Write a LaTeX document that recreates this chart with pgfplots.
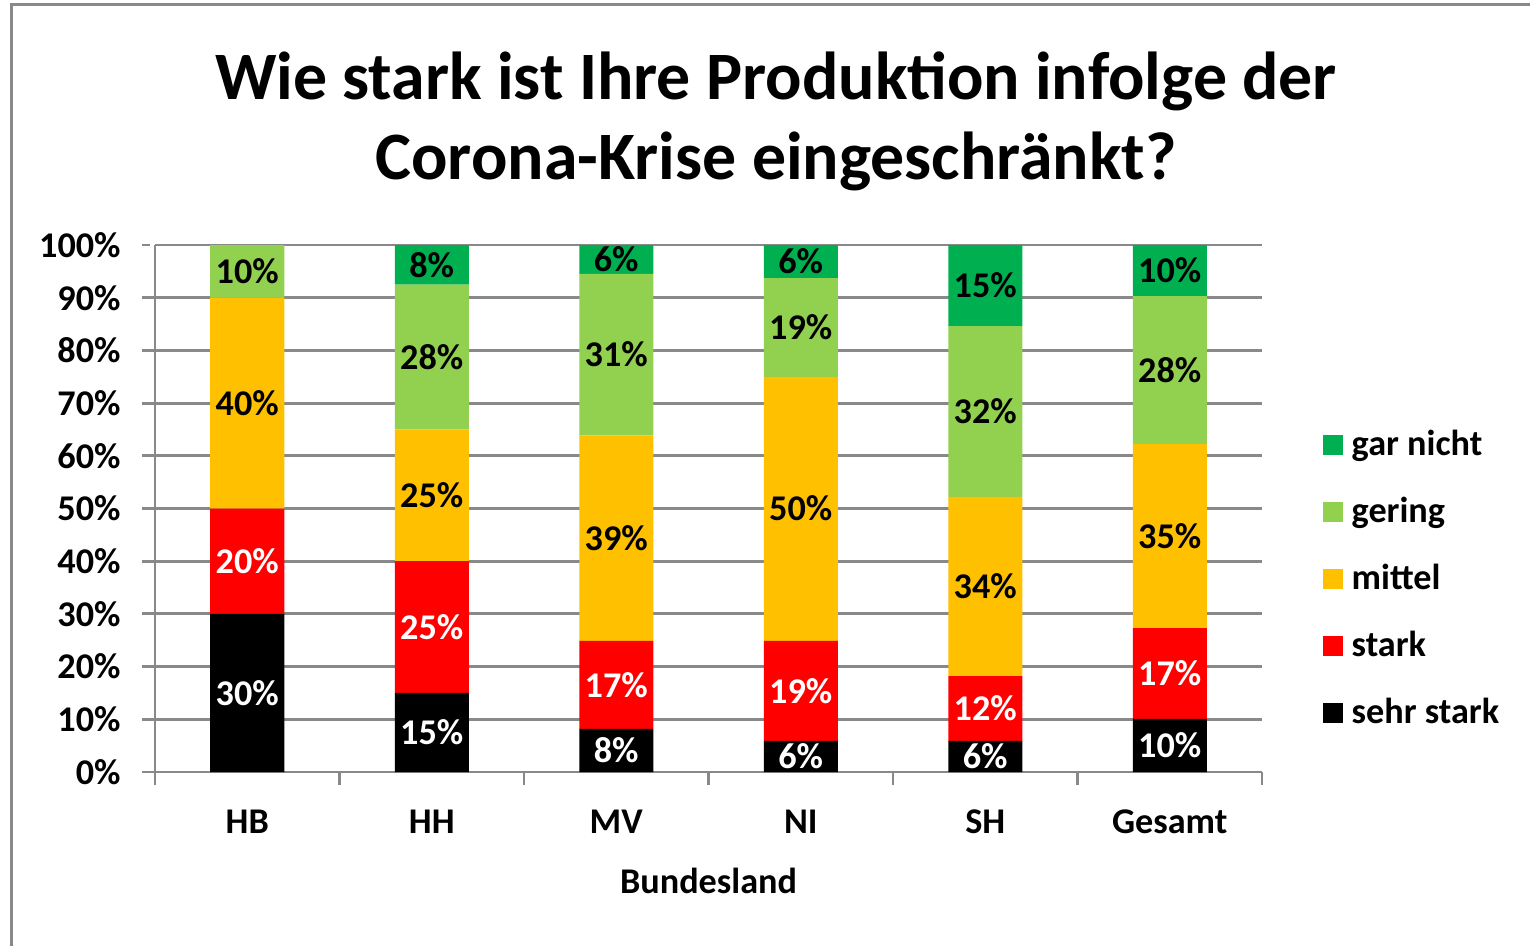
\documentclass[border=0pt]{standalone}
\usepackage{fontspec}
\setmainfont{Carlito}
\usepackage{pgfplots}
\pgfplotsset{compat=1.18}

\definecolor{garnicht}{RGB}{0,176,80}
\definecolor{gering}{RGB}{146,208,80}
\definecolor{mittel}{RGB}{255,192,0}
\definecolor{stark}{RGB}{255,0,0}
\definecolor{sehrstark}{RGB}{0,0,0}
\definecolor{gridgray}{RGB}{137,137,137}

\newcommand\lf{\fontsize{10.3}{12.4}\selectfont\bfseries}

\pgfplotsset{
  chartbox/.style={
    scale only axis, width=11.07cm, height=5.27cm,
    at={(1.55cm,1.74cm)}, anchor=south west,
    xmin=-0.5, xmax=5.5, ymin=0, ymax=100,
  },
  lab/.style={draw=none, mark=none, nodes near coords, point meta=explicit symbolic,
    nodes near coords style={anchor=center, font=\lf, text=#1}},
}

\begin{document}
\begin{tikzpicture}
\useasboundingbox (0,0) rectangle (15.3,9.46);
\draw[gridgray, line width=0.03cm] (0.12,0) -- (0.12,9.41) -- (15.3,9.41);
\node[font=\fontsize{19.3}{23}\selectfont\bfseries, anchor=base] at (7.76,8.46) {Wie stark ist Ihre Produktion infolge der};
\node[font=\fontsize{19.3}{23}\selectfont\bfseries, anchor=base] at (7.76,7.66) {Corona-Krise eingeschränkt?};

\begin{axis}[chartbox,
  ybar stacked, bar width=0.74cm,
  axis lines=left, axis line style={-, gridgray, line width=0.85pt},
  tick align=outside,
  tick style={gridgray, line width=0.85pt},
  major tick length=0.13cm,
  ytick={0,10,...,100},
  ytick style={shorten >=0.05cm},
  yticklabel={\pgfmathprintnumber{\tick}\%},
  yticklabel style={font=\lf, anchor=east, xshift=-0.09cm},
  ymajorgrids, grid style={gridgray, line width=0.85pt},
  xtick={-0.5,0.5,...,5.5},
  x tick label as interval,
  xticklabels={HB,HH,MV,NI,SH,Gesamt},
  xticklabel style={font=\lf, anchor=base, yshift=-0.48cm},
  xlabel={Bundesland},
  xlabel style={font=\lf, at={(axis description cs:0.5,-0.23)}, anchor=base},
  /pgf/number format/assume math mode=true,
  legend cell align=left, reverse legend,
  legend image code/.code={\fill[#1] (0cm,-0.08cm) rectangle (0.2cm,0.12cm);},
  legend style={at={(1,0.363)}, anchor=west, xshift=0.6cm, draw=none, fill=none,
    inner sep=0pt, row sep=0.33cm, font=\lf,
    nodes={inner sep=0pt, text height=0.26cm, text depth=0.08cm},
    /tikz/every odd column/.append style={column sep=0.09cm}},
]
\addplot[fill=sehrstark, draw=none] coordinates {(0,30) (1,15) (2,8.2) (3,5.9) (4,5.9) (5,10.1)};
\addplot[fill=stark, draw=none] coordinates {(0,20) (1,25) (2,16.7) (3,19) (4,12.3) (5,17.2)};
\addplot[fill=mittel, draw=none] coordinates {(0,40) (1,25) (2,39) (3,50.1) (4,34) (5,34.9)};
\addplot[fill=gering, draw=none] coordinates {(0,10) (1,27.5) (2,30.6) (3,18.7) (4,32.4) (5,28.1)};
\addplot[fill=garnicht, draw=none] coordinates {(0,0) (1,7.5) (2,5.5) (3,6.3) (4,15.4) (5,9.7)};
\legend{sehr stark, stark, mittel, gering, gar nicht}
\end{axis}

\begin{axis}[chartbox, hide axis]
\addplot[lab=white] coordinates {
  (0,15)[30\%] (1,7.5)[15\%] (2,4.1)[8\%] (3,2.95)[6\%] (4,2.95)[6\%] (5,5.05)[10\%]
  (0,40)[20\%] (1,27.5)[25\%] (2,16.55)[17\%] (3,15.4)[19\%] (4,12.05)[12\%] (5,18.7)[17\%]};
\addplot[lab=black] coordinates {
  (0,70)[40\%] (1,52.5)[25\%] (2,44.45)[39\%] (3,50)[50\%] (4,35.2)[34\%] (5,44.75)[35\%]
  (0,95)[10\%] (1,78.75)[28\%] (2,79.25)[31\%] (3,84.4)[19\%] (4,68.4)[32\%] (5,76.25)[28\%]
  (1,96.25)[8\%] (2,97.25)[6\%] (3,96.85)[6\%] (4,92.3)[15\%] (5,95.15)[10\%]};
\end{axis}
\end{tikzpicture}
\end{document}
